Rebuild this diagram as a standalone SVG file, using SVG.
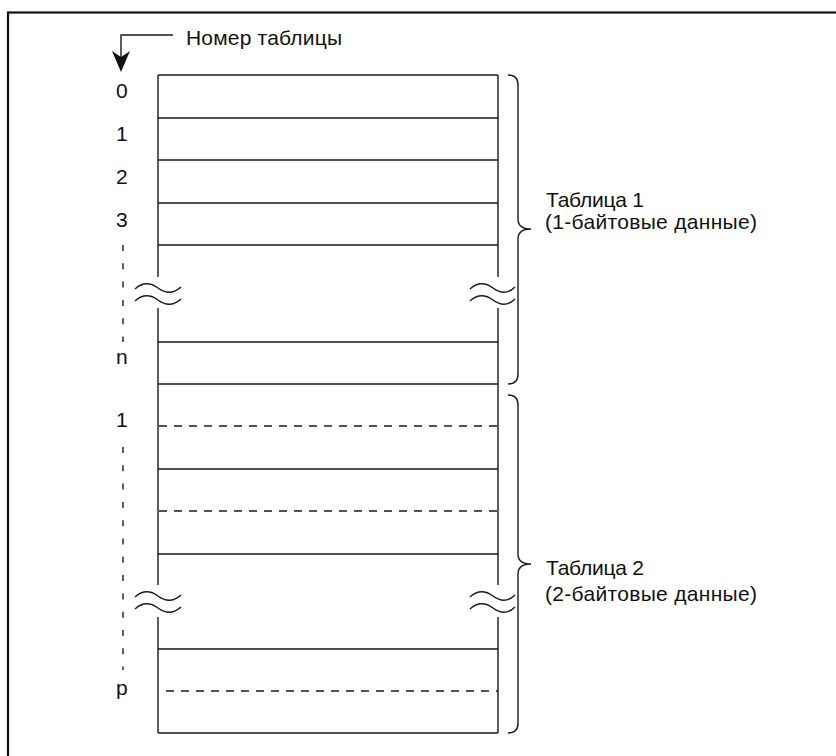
<svg xmlns="http://www.w3.org/2000/svg" width="836" height="756" viewBox="0 0 836 756">
<style>
  .t { font-family: "Liberation Sans", Arial, sans-serif; font-size: 21px; fill: #111; }
  .ln { stroke: #1a1a1a; stroke-width: 1.4; fill: none; }
  .dl { stroke: #1a1a1a; stroke-width: 1.3; fill: none; stroke-dasharray: 8 7; }
  .ix { stroke: #1a1a1a; stroke-width: 1.4; fill: none; stroke-dasharray: 6 12.3; }
  .br { stroke: #1a1a1a; stroke-width: 1.4; fill: none; }
</style>
<rect width="836" height="756" fill="#ffffff"/>
<rect x="8" y="12.5" width="900" height="900" fill="none" stroke="#111" stroke-width="2.2"/>

<g id="header">
  <text class="t" x="186" y="45" textLength="156">Номер таблицы</text>
</g>

<g id="connectors">
  <path class="ln" d="M173,35 H121 V58"/>
  <polygon points="112,51 121,72 130,51 121,57" fill="#111"/>
  <path class="ix" d="M123,245 V342"/>
  <path class="ix" d="M123,447 V670"/>
</g>

<g id="table1">
  <path class="ln" d="M158,75 H498"/>
  <path class="ln" d="M158,118 H498 M158,160 H498 M158,203 H498 M158,245 H498 M158,342 H498 M158,384 H498"/>
  <path class="ln" d="M158,75 V277 M158,308 V585 M158,617 V733"/>
  <path class="ln" d="M498,75 V277 M498,308 V585 M498,617 V733"/>
  <path class="ln" d="M135,289 Q146,279 158,288 T181,287 M135,301 Q146,291 158,300 T181,299"/>
  <path class="ln" d="M470,289 Q481,279 493,288 T515,287 M470,301 Q481,291 493,300 T515,299"/>
  <text class="t" x="116" y="98">0</text>
  <text class="t" x="116" y="141">1</text>
  <text class="t" x="116" y="184">2</text>
  <text class="t" x="116" y="227">3</text>
  <text class="t" x="116" y="364">n</text>
  <path class="br" d="M508,75 Q518,75 518,85 L518,219 Q518,229 531,229 Q518,229 518,239 L518,374 Q518,384 508,384"/>
  <text class="t" x="546" y="207" textLength="98">Таблица 1</text>
  <text class="t" x="545" y="229" textLength="212">(1-байтовые данные)</text>
</g>

<g id="table2">
  <path class="dl" d="M159,426 H498 M159,511 H498 M166,691 H498"/>
  <path class="ln" d="M158,469 H498 M158,554 H498 M158,649 H498 M158,733 H498"/>
  <path class="ln" d="M135,597 Q146,587 158,596 T181,595 M135,609 Q146,599 158,608 T181,607"/>
  <path class="ln" d="M470,597 Q481,587 493,596 T515,595 M470,609 Q481,599 493,608 T515,607"/>
  <text class="t" x="116" y="427">1</text>
  <text class="t" x="116" y="695">p</text>
  <path class="br" d="M508,395 Q518,395 518,405 L518,554 Q518,564 531,564 Q518,564 518,574 L518,723 Q518,733 508,733"/>
  <text class="t" x="546" y="575" textLength="98">Таблица 2</text>
  <text class="t" x="545" y="601" textLength="212">(2-байтовые данные)</text>
</g>
</svg>
